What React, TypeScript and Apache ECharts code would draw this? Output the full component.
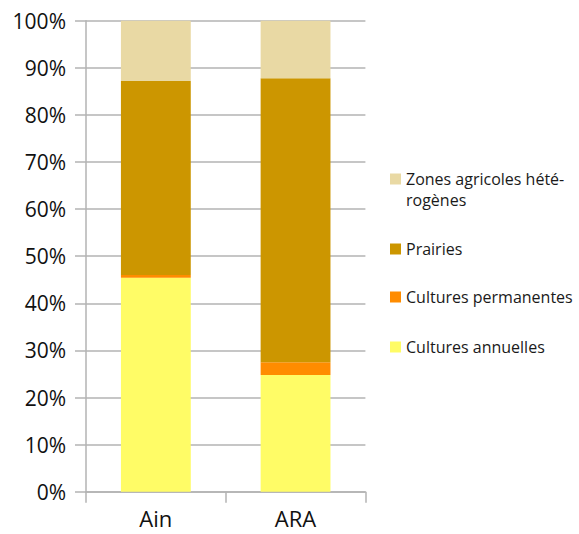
import React, { useEffect, useRef } from "react";
import * as echarts from "echarts";

const categories = ["Ain", "ARA"];
const seriesNames = [
  "Cultures annuelles",
  "Cultures permanentes",
  "Prairies",
  "Zones agricoles hétérogènes",
];
const culturesAnnuelles = [45.4, 24.8];
const culturesPermanentes = [0.6, 2.7];
const prairies = [41.2, 60.3];
const zonesHeterogenes = [12.8, 12.2];
const colors = ["#FFFC66", "#FF8C00", "#CC9600", "#E9D9A4"];

const FONT = "Open Sans";

export default function App() {
  const ref = useRef<HTMLDivElement>(null);
  useEffect(() => {
    if (!ref.current) return;
    const chart = echarts.init(ref.current, null, { renderer: "svg" });
    const values = [culturesAnnuelles, culturesPermanentes, prairies, zonesHeterogenes];
    const legendTops = [336.5, 286.5, 238.5, 147.5];
    chart.setOption({
      animation: false,
      grid: { left: 86, right: 213.6, top: 20.7, bottom: 42.3 },
      legend: seriesNames.map((name, i) => ({
        data: [name],
        orient: "vertical",
        left: 390,
        top: legendTops[i],
        padding: 0,
        itemWidth: 11,
        itemHeight: 11,
        icon: "rect",
        selectedMode: false,
        formatter: (n: string) =>
          n === "Zones agricoles hétérogènes" ? "\nZones agricoles hété-\nrogènes" : n,
        textStyle: {
          fontFamily: FONT,
          fontSize: 16,
          lineHeight: 21,
          color: "#1a1a1a",
        },
      })),
      xAxis: {
        type: "category",
        data: categories,
        axisLine: { lineStyle: { color: "#b3b3b3", width: 1.5 } },
        axisTick: { show: true, length: 11, lineStyle: { color: "#b3b3b3", width: 1.5 } },
        axisLabel: {
          fontFamily: FONT,
          fontSize: 22,
          lineHeight: 22,
          color: "#111",
          margin: 15,
        },
      },
      yAxis: {
        type: "value",
        min: 0,
        max: 100,
        interval: 10,
        axisLine: { show: true, lineStyle: { color: "#b3b3b3", width: 1.5 } },
        axisTick: { show: true, length: 11, lineStyle: { color: "#b3b3b3", width: 1.5 } },
        splitLine: { lineStyle: { color: "#b3b3b3", width: 1.5 } },
        axisLabel: {
          formatter: "{value}%",
          fontFamily: FONT,
          fontSize: 21,
          color: "#111",
          margin: 20,
        },
      },
      series: seriesNames.map((name, i) => ({
        name,
        type: "bar",
        stack: "total",
        barWidth: "50%",
        itemStyle: { color: colors[i] },
        data: values[i],
      })),
    });
    return () => chart.dispose();
  }, []);
  return (
    <div
      ref={ref}
      style={{ position: "absolute", left: 0, top: 0, width: 579, height: 534 }}
    />
  );
}
